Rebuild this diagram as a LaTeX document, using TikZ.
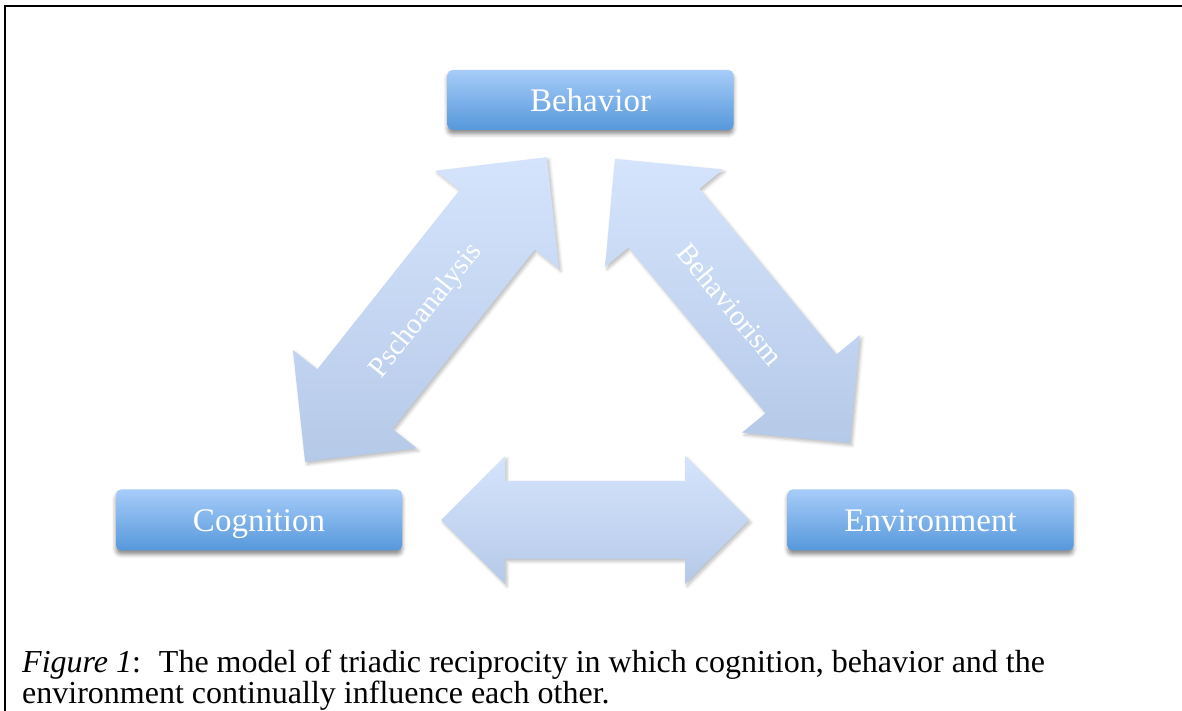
\documentclass[tikz,border=0pt]{standalone}
\usepackage{fontspec}
\setmainfont{Liberation Serif}
\usetikzlibrary{shadows.blur}
\definecolor{boxtop}{RGB}{167,204,249}
\definecolor{boxbot}{RGB}{86,152,219}
\definecolor{arrtop}{RGB}{213,228,252}
\definecolor{arrbot}{RGB}{181,201,232}
\tikzset{
  box/.style={rounded corners=5pt, minimum width=286pt, minimum height=61pt,
    top color=boxtop, bottom color=boxbot, text=white,
    font=\fontsize{33}{36}\selectfont, inner sep=0pt, text height=24pt, text depth=0pt,
    blur shadow={shadow xshift=0pt, shadow yshift=-4pt, shadow blur radius=4pt, shadow opacity=45}},
  arrowfill/.style={top color=arrtop, bottom color=arrbot,
    blur shadow={shadow xshift=2pt, shadow yshift=-2.5pt, shadow blur radius=3pt, shadow opacity=25}},
  arrlabel/.style={text=white, font=\fontsize{29}{32}\selectfont, inner sep=0pt},
  frameline/.style={line width=2.2pt},
  captext/.style={anchor=base west, inner sep=0pt, font=\fontsize{32}{31}\selectfont}
}
% #1 cx, #2 cy, #3 angle, #4 length, #5 head length, #6 head width, #7 shaft width
\newcommand{\blockarrow}[7]{%
  \begin{scope}[shift={(#1,#2)},rotate=#3]
    \path[arrowfill] (-#4/2,0) -- (-#4/2+#5,#6/2) -- (-#4/2+#5,#7/2) -- (#4/2-#5,#7/2)
      -- (#4/2-#5,#6/2) -- (#4/2,0) -- (#4/2-#5,-#6/2) -- (#4/2-#5,-#7/2)
      -- (-#4/2+#5,-#7/2) -- (-#4/2+#5,-#6/2) -- cycle;
  \end{scope}}
\begin{document}
\begin{tikzpicture}[x=1pt,y=1pt]
\useasboundingbox (0,0) rectangle (1182,711);
\draw[frameline] (5,0) -- (5,705) -- (1182,705);

% block arrows
\blockarrow{426}{401.5}{51.57}{389}{80}{158}{96}
\blockarrow{732.5}{410}{-50.4}{369}{77}{153}{92}
\blockarrow{595}{191}{0}{308}{64}{128}{78}

\node[arrlabel, rotate=51.57] (psy) at (427,400) {Pschoanalysis};
\node[arrlabel, rotate=-50.4] (beh) at (730,406.5) {Behaviorism};

% boxes
\node[box, minimum height=60pt] (behavior) at (590.5,611) {Behavior};
\node[box] (cognition) at (259,191) {Cognition};
\node[box] (environment) at (930.5,191) {Environment};

% caption
\node[captext] (cap1) at (22,38.5) {\textit{Figure 1}:\hspace{18pt}The model of triadic reciprocity in which cognition, behavior and the};
\node[captext] (cap2) at (22,7.5) {environment continually influence each other.};
\end{tikzpicture}
\end{document}
